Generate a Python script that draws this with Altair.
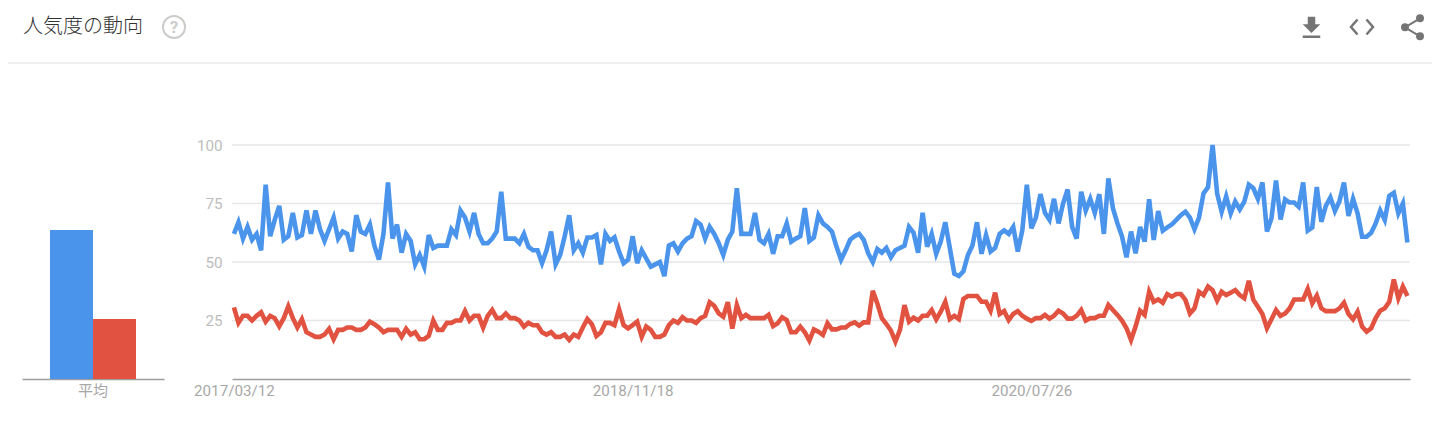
import altair as alt
import pandas as pd

TITLE = "人気度の動向"
SERIES = ["系列1", "系列2"]
COLORS = ["#4a94ec", "#e15240"]
AVERAGES = [63.7, 25.6]
AVG_LABEL = "平均"
START = "2017-03-12"
TICK_DATES = [(2017, 3, 12), (2018, 11, 18), (2020, 7, 26)]
Y_TICKS = [25, 50, 75, 100]

blue = [62, 67, 60, 65, 59.5, 62, 55, 83, 61, 68, 74, 59.5, 61, 71, 60.5, 61.5, 72, 62, 72, 64,
        59, 64, 69, 60, 63, 62, 54.5, 70, 63, 62, 66, 57, 51, 62, 84, 60, 66, 54, 62, 59,
        49, 53, 48, 61.5, 56, 57, 57, 57, 64, 61.5, 72, 69, 63, 71, 62, 58, 58, 60, 63, 80,
        60, 60, 60, 58, 62, 56.5, 55, 55, 49.5, 55, 63, 49, 53, 61, 70, 55, 58, 54, 60.5, 60.5,
        61.5, 49, 62, 59, 60.5, 54.5, 49.5, 51, 61, 49.5, 55, 51.5, 48, 49, 50, 44, 57, 58, 54.5, 58,
        60, 61, 67.5, 66, 60, 65, 62, 58, 53, 59.5, 63, 81.5, 62, 62, 62, 71, 59.5, 58, 62, 53.5,
        61, 61, 66.5, 58.7, 60, 61, 73, 59, 60.5, 70, 66.5, 65, 63, 56.5, 51, 55, 59.5, 61, 62, 59.5,
        53.7, 50, 55.5, 54, 56, 52, 55, 56, 57, 65, 62.5, 54, 71, 56.5, 62, 53.5, 58.7, 67, 56, 45,
        44, 46, 53, 57, 67, 53.5, 61.5, 54.5, 56, 62, 63.5, 62, 65, 54.5, 63.5, 83, 64.4, 69, 79, 71,
        68, 77, 66.5, 75, 81, 65, 60, 80, 72, 77, 71, 79, 62, 85.7, 73, 66.5, 61, 52, 63, 53.7,
        65, 58.7, 76.8, 59.4, 71.8, 63.4, 64.8, 66, 68, 70, 71.5, 69, 64, 69, 79.3, 82, 100, 79.3, 71.5, 78,
        70.8, 75.8, 72.5, 75.8, 83, 81.5, 77, 84, 63, 68.7, 84.8, 68.2, 76.8, 75.4, 75.4, 73.6, 84, 63.4, 64.8, 82,
        67.2, 74, 77.6, 71.8, 76, 84, 69.7, 77, 70.8, 60.8, 60.8, 62.5, 66.5, 72, 68, 78.3, 79.6, 70.8, 75, 58.3]

red = [30.6, 24, 27, 27, 25, 27, 28.5, 24.5, 27, 26, 22.5, 26, 31, 26, 22, 25.6, 20, 19, 18, 18,
       19, 21.4, 17, 21, 21, 22, 22, 21, 21, 22, 24.5, 23.4, 22, 20, 21, 21, 21, 18, 21.4, 19,
       20, 17, 17, 18.4, 25, 21, 21, 24, 24, 25, 25, 29, 25, 27, 27, 22, 27, 29.5, 26, 26,
       28, 26, 26, 25, 22.4, 24, 23, 23, 20, 19, 20, 18, 18, 19, 16.7, 19, 18, 22, 25.6, 23.4,
       18.4, 20, 24, 24, 23, 29.8, 23, 21.6, 23, 24.5, 18, 22.4, 21, 18, 18, 19, 23, 25, 24, 26.4,
       25, 25, 24, 26, 27, 32.8, 31.3, 28, 26.6, 32.8, 21.5, 31.6, 26, 27.4, 26, 26, 26, 26, 27.4, 22.6,
       23.8, 26.4, 25.2, 20, 20, 22.4, 20, 16.4, 21.2, 20.2, 18.8, 23.8, 21.2, 21.2, 22, 22, 23.5, 24.2, 22.8, 24.2,
       24.2, 37.7, 32.3, 26, 23.5, 20.7, 16, 21, 31.6, 24.5, 26.2, 25, 27, 27, 29.5, 25.5, 28.8, 33, 25.6, 27,
       25.6, 34.2, 35.5, 35.5, 35.5, 33, 33, 29.2, 36.9, 27.8, 29, 25.2, 27.8, 29, 27, 25.8, 24.8, 26, 26, 27.4,
       25.8, 27, 29.2, 28, 25.8, 25.8, 27, 29.5, 25, 26, 26, 27, 27, 31.6, 29.5, 27.4, 25, 21.7, 16.7, 22.4,
       29.2, 27.4, 37.3, 33, 34, 32.6, 36.3, 35.2, 36.3, 36.3, 33.8, 28, 30.2, 37.3, 35.9, 39.5, 38, 33.5, 37.3, 35.9,
       36.9, 38, 35.9, 34.5, 42, 33.8, 30.9, 27.8, 21.7, 25.5, 29.5, 27, 28, 30.2, 34, 34, 34, 38.5, 32.3, 35.6,
       30.2, 29, 29, 29, 30.2, 32.6, 27.8, 25.5, 28.8, 22.4, 20.2, 21.7, 26, 29.2, 30.2, 33, 42.5, 34.5, 39.5, 35.5]

dates = pd.date_range(START, periods=len(blue), freq="7D").strftime("%Y-%m-%d")
lines = pd.DataFrame({
    "date": list(dates) * 2,
    "value": blue + red,
    "series": [SERIES[0]] * len(blue) + [SERIES[1]] * len(red),
})
bars = pd.DataFrame({"cat": [AVG_LABEL] * 2, "series": SERIES, "value": AVERAGES})
one = pd.DataFrame({"a": [0]})

FONT = "Roboto"
CJK = "Noto Sans CJK JP"
W = 1424
H = 417
BASE = 371
yscale = alt.Scale(domain=[0, 100], range=[BASE, 137], nice=False, zero=False)
yaxis = alt.Axis(values=Y_TICKS, grid=False, domain=False, ticks=False, offset=-218, labelPadding=4,
                 labelFont=FONT, labelFontSize=15.2, labelColor="#bdbdbd", orient="left", zindex=1)
color = alt.Color("series:N", scale=alt.Scale(domain=SERIES, range=COLORS), legend=None)


def dt(y, m, d):
    return alt.DateTime(year=y, month=m, date=d, utc=True)


grid = alt.Chart(pd.DataFrame({"v": Y_TICKS})).mark_rule(color="#e6e6e6", strokeWidth=1.5).encode(
    y=alt.Y("v:Q", scale=yscale, title=None, axis=yaxis),
    x=alt.value(224), x2=alt.value(1402),
)

bar = alt.Chart(bars).mark_bar().encode(
    x=alt.X("cat:N", title=None, scale=alt.Scale(range=[14, 156], paddingInner=0, paddingOuter=0.3256),
            axis=alt.Axis(labelAngle=0, ticks=False, grid=False, domainColor="#9e9e9e", domainWidth=1.5,
                          offset=BASE - H, labelPadding=4, labelFont=CJK, labelFontSize=15,
                          labelColor="#a8a8a8", orient="bottom")),
    xOffset=alt.XOffset("series:N", sort=SERIES),
    y=alt.Y("value:Q", scale=yscale, title=None, axis=yaxis),
    color=color,
)

line = alt.Chart(lines).mark_line(strokeWidth=4.6, interpolate="linear").encode(
    x=alt.X("date:T", title=None,
            scale=alt.Scale(type="utc", domain=[dt(2017, 3, 9), dt(2022, 3, 3)], range=[224, 1402]),
            axis=alt.Axis(values=[dt(*d) for d in TICK_DATES],
                          labelExpr="utcFormat(datum.value, '%Y/%m/%d')",
                          ticks=False, grid=False, domainColor="#9e9e9e", domainWidth=1.5,
                          offset=BASE - H, labelPadding=4, labelFont=FONT, labelFontSize=15.2,
                          labelColor="#a8a8a8", labelOverlap=False, labelFlush=False, labelAngle=0,
                          orient="bottom")),
    y=alt.Y("value:Q", scale=yscale, title=None, axis=yaxis),
    color=color,
    detail="series:N",
)

base = alt.Chart(one)
divider = base.mark_rule(color="#e0e0e0", strokeWidth=1).encode(x=alt.value(0), x2=alt.value(W), y=alt.value(55))
title = base.mark_text(text=TITLE, font=CJK, fontSize=20, color="#333333", align="left", baseline="middle",
                       fontWeight=300).encode(x=alt.value(15), y=alt.value(19))
q_circle = base.mark_point(shape="circle", size=490, filled=False, color="#cccccc", strokeWidth=2, opacity=1).encode(
    x=alt.value(166), y=alt.value(19))
q_mark = base.mark_text(text="?", font=FONT, fontSize=17, fontWeight="bold", color="#cccccc",
                        align="center", baseline="middle").encode(x=alt.value(166), y=alt.value(19.5))
download = base.mark_point(
    shape="M-3.75-11.25H3.75V-3.75H8.75L0 5L-8.75-3.75H-3.75ZM-8.75 7.5H8.75V10H-8.75Z",
    size=4, filled=True, color="#757575", opacity=1, strokeWidth=0).encode(x=alt.value(1303.5), y=alt.value(20))
code = base.mark_point(
    shape="M-4.5-7.5L-11 0L-4.5 7.5M4.5-7.5L11 0L4.5 7.5",
    size=4, filled=False, color="#757575", opacity=1, strokeWidth=2.5).encode(x=alt.value(1354), y=alt.value(19))
share = base.mark_point(
    shape="M-7.5 0L7.5-9M-7.5 0L7.5 9M10.5-9A3 3 0 1 1 4.5-9A3 3 0 1 1 10.5-9ZM10.5 9A3 3 0 1 1 4.5 9A3 3 0 1 1 10.5 9ZM-4.5 0A3 3 0 1 1-10.5 0A3 3 0 1 1-4.5 0Z",
    size=4, filled=True, color="#757575", stroke="#757575", opacity=1, strokeWidth=2).encode(x=alt.value(1404.5), y=alt.value(19.3))

chart = (
    alt.layer(grid, bar, line, divider, title, q_circle, q_mark, download, code, share)
    .resolve_scale(x="independent")
    .properties(width=W, height=H, padding=0, autosize=alt.AutoSizeParams(type="none"),
                background="#ffffff")
    .configure_view(stroke=None)
)

chart.save("out.html", embed_options={"renderer": "svg", "actions": False})
